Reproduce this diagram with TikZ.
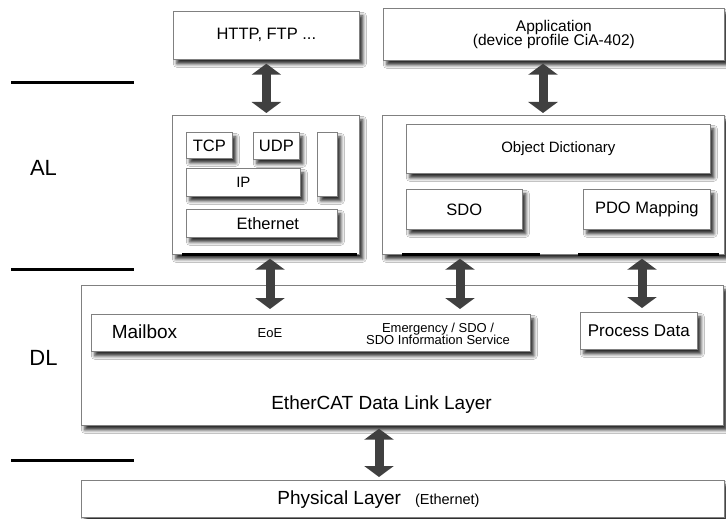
\documentclass[tikz,border=0pt]{standalone}
\usepackage{fontspec}
\setmainfont{Liberation Sans}
\usetikzlibrary{arrows.meta,shadows.blur,calc}
\definecolor{arrowc}{HTML}{404040}
\definecolor{edgec}{HTML}{808080}
\newcommand{\fsz}[1]{\fontsize{#1}{#1}\selectfont}
\tikzset{
  box/.style={draw=edgec, line width=0.7pt, fill=white, anchor=north west, inner sep=0pt,
    blur shadow={shadow xshift=3.5pt, shadow yshift=-4.5pt, shadow blur radius=3.5pt, shadow opacity=85}},
  dbl/.style={draw=arrowc, line width=9pt,
    {Triangle[width=29pt,length=11pt]}-{Triangle[width=29pt,length=11pt]}},
  sepline/.style={line width=3pt, black},
  underl/.style={line width=2.5pt, black},
  lbl/.style={font=\fsz{22}},
  txt/.style={inner sep=0pt, align=center},
}
\begin{document}
\begin{tikzpicture}[x=1pt,y=-1pt]
\fill[white] (0,0) rectangle (726,519);
\useasboundingbox (0,0) rectangle (726,519);

% left side layer markers
\coordinate (s1a) at (11,83); \coordinate (s1b) at (134,83);
\coordinate (s2a) at (11,269); \coordinate (s2b) at (134,269);
\coordinate (s3a) at (11,460); \coordinate (s3b) at (134,460);
\draw[sepline] (s1a) -- (s1b);
\draw[sepline] (s2a) -- (s2b);
\draw[sepline] (s3a) -- (s3b);
\node[lbl] (al) at (43.5,168) {AL};
\node[lbl] (dlbl) at (43.5,358) {DL};

% top boxes
\node[box, minimum width=186pt, minimum height=48pt, font=\fsz{16.5}] (http) at (173,11) {HTTP, FTP ...};
\node[box, minimum width=341pt, minimum height=52pt, font=\fsz{15.5}, align=center] (app) at (383,8)
  {Application\\[-1pt](device profile CiA-402)};

% AL left
\node[box, minimum width=187pt, minimum height=139pt] (alleft) at (172,115) {};
\node[box, minimum width=46pt, minimum height=26pt, font=\fsz{16.5}] (tcp) at (186,132) {TCP};
\node[box, minimum width=46pt, minimum height=27pt, font=\fsz{16.5}] (udp) at (253,132) {UDP};
\node[box, minimum width=114pt, minimum height=28pt, font=\fsz{15}] (ip) at (186,168) {IP};
\node[box, minimum width=20pt, minimum height=64pt] (vbox) at (317,132) {};
\node[box, minimum width=151pt, minimum height=28pt, font=\fsz{16.5}] (eth) at (186,209) {\hspace{12pt}Ethernet};

% AL right
\node[box, minimum width=342pt, minimum height=139pt] (alright) at (382,115) {};
\node[box, minimum width=304pt, minimum height=49pt, font=\fsz{15}] (od) at (406,124) {Object Dictionary};
\node[box, minimum width=116pt, minimum height=40pt, font=\fsz{16.5}] (sdo) at (406,189) {SDO};
\node[box, minimum width=127pt, minimum height=40pt, font=\fsz{16.5}] (pdo) at (583,189) {PDO Mapping};

% underlines at bottom of AL boxes
\draw[underl] ($(alleft.south west)+(10,0)$) -- ($(alleft.south east)+(-3,0)$);
\draw[underl] ($(alright.south west)+(20,0)$) -- ($(alright.south west)+(158,0)$);
\draw[underl] ($(alright.south west)+(196,0)$) -- ($(alright.south east)+(-6,0)$);

% DL
\node[box, minimum width=642pt, minimum height=140pt] (dl) at (81,285) {};
\node[box, minimum width=439pt, minimum height=37pt] (mailbox) at (91,314) {};
\node[txt, font=\fsz{19}] (mbt) at (144.5,332) {Mailbox};
\node[txt, font=\fsz{13}] (eoe) at (270,333) {EoE};
\node[txt, font=\fsz{13}] (emg) at (438,334) {Emergency / SDO /\\[-1pt]SDO Information Service};
\node[box, minimum width=117pt, minimum height=37pt, font=\fsz{17}] (pd) at (580,312) {Process Data};
\node[txt, font=\fsz{19}] (dlt) at (381.5,405) {EtherCAT Data Link Layer};

% PL
\node[box, minimum width=643pt, minimum height=37pt] (pl) at (81,480) {};
\node[txt] (plt) at (378.5,500) {{\fsz{19}Physical Layer}\hspace{14pt}{\fsz{14.5}(Ethernet)}};

% arrow positions
\coordinate (x2) at (543,0);
\coordinate (x4) at (460,0);
\coordinate (x5) at (642,0);
\coordinate (x6) at (379,0);

% arrows
\draw[dbl, shorten <=4pt, shorten >=2pt] (http.south) -- (alleft.north -| http.south);
\draw[dbl, shorten <=3pt, shorten >=2pt] (app.south -| x2) -- (alright.north -| x2);
\draw[dbl, shorten <=4pt, shorten >=5pt] (alleft.south -| eoe) -- (mailbox.north -| eoe);
\draw[dbl, shorten <=4pt, shorten >=5pt] (alright.south -| x4) -- (mailbox.north -| x4);
\draw[dbl, shorten <=4pt, shorten >=4pt] (alright.south -| x5) -- (pd.north -| x5);
\draw[dbl, shorten <=3pt, shorten >=3pt] (dl.south -| x6) -- (pl.north -| x6);
\end{tikzpicture}
\end{document}
